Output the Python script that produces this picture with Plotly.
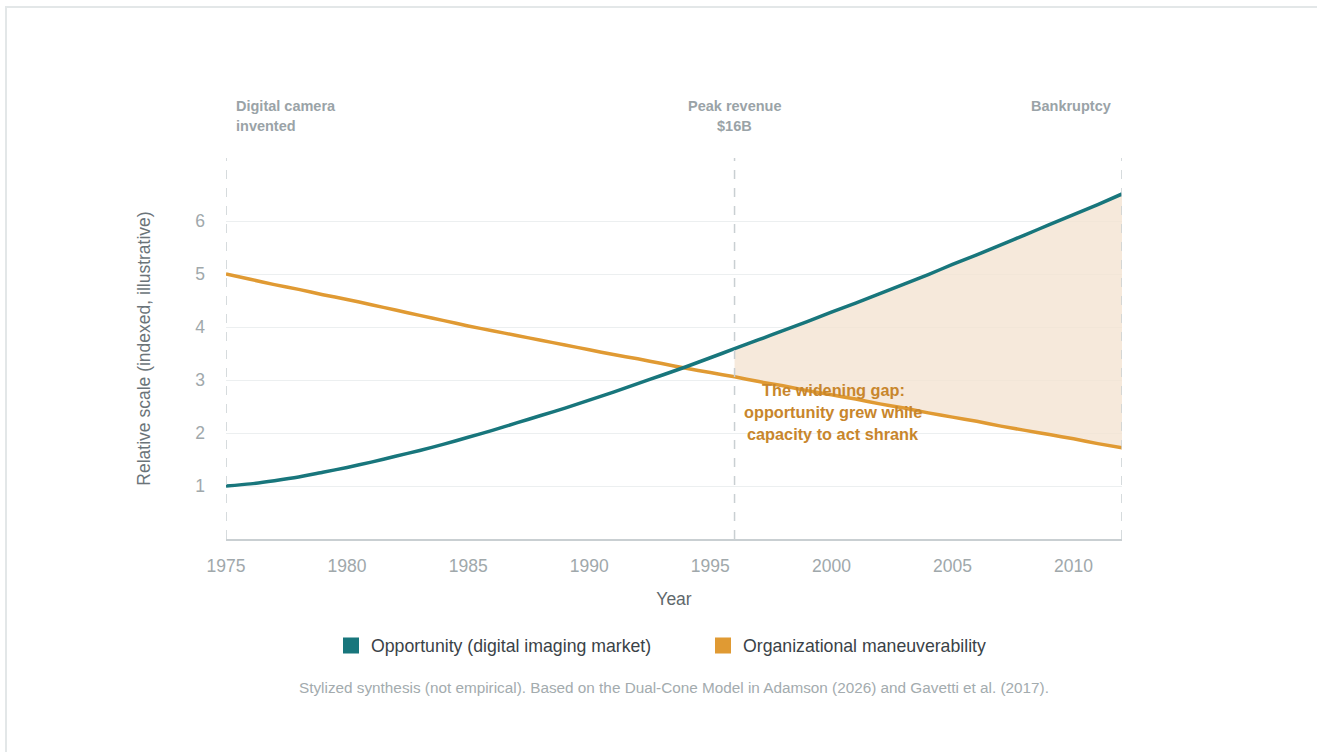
import plotly.graph_objects as go

years = list(range(1975, 2013))
opportunity = [1.00, 1.04, 1.10, 1.17, 1.26, 1.35, 1.45, 1.56, 1.67, 1.79,
               1.92, 2.05, 2.19, 2.33, 2.47, 2.62, 2.77, 2.93, 3.09, 3.25,
               3.42, 3.59, 3.76, 3.93, 4.10, 4.28, 4.45, 4.63, 4.81, 4.99,
               5.18, 5.36, 5.55, 5.74, 5.93, 6.12, 6.31, 6.51]
maneuverability = [5.00, 4.90, 4.80, 4.71, 4.61, 4.52, 4.42, 4.32, 4.22, 4.12,
                   4.02, 3.93, 3.84, 3.75, 3.66, 3.57, 3.48, 3.40, 3.31, 3.22,
                   3.14, 3.06, 2.97, 2.89, 2.80, 2.72, 2.64, 2.55, 2.47, 2.38,
                   2.30, 2.22, 2.13, 2.05, 1.97, 1.89, 1.80, 1.72]
events = [1975, 1996, 2012]
event_labels = [["Digital camera", "invented"], ["Peak revenue", "$16B"], ["Bankruptcy"]]
gap_start = 1996
x_ticks = [1975, 1980, 1985, 1990, 1995, 2000, 2005, 2010]
y_ticks = [1, 2, 3, 4, 5, 6]

TEAL = "#18767c"
ORANGE = "#e09a33"
FONT = "Liberation Sans, Arial, sans-serif"

W, H = 1317, 752
L, R, T, B = 226, 1122, 158, 539

fig = go.Figure()

gi = years.index(gap_start)
fig.add_trace(go.Scatter(x=years[gi:], y=maneuverability[gi:], mode="lines",
                         line=dict(width=0, color=ORANGE), showlegend=False, hoverinfo="skip"))
fig.add_trace(go.Scatter(x=years[gi:], y=opportunity[gi:], mode="lines", fill="tonexty",
                         fillcolor="rgba(244,228,210,0.8)",
                         line=dict(width=0, color=TEAL), showlegend=False, hoverinfo="skip"))

fig.add_trace(go.Scatter(x=years, y=maneuverability, mode="lines", line=dict(color=ORANGE, width=3.5, shape="spline", smoothing=0.6),
                         showlegend=False))
fig.add_trace(go.Scatter(x=years, y=opportunity, mode="lines", line=dict(color=TEAL, width=3.5, shape="spline", smoothing=0.6),
                         showlegend=False))

# legend entries (square swatches)
fig.add_trace(go.Scatter(x=[None], y=[None], mode="markers", name="Opportunity (digital imaging market)",
                         marker=dict(symbol="square", size=16, color=TEAL)))
fig.add_trace(go.Scatter(x=[None], y=[None], mode="markers", name="Organizational maneuverability",
                         marker=dict(symbol="square", size=16, color=ORANGE)))

shapes = []
for e in events:
    shapes.append(dict(type="line", xref="x", yref="paper", x0=e, x1=e, y0=0, y1=1,
                       line=dict(color="#c9cfd2", width=1.5, dash="dash"), layer="above"))

def py(p):
    return (B - p) / (B - T)

def px(p):
    return (p - L) / (R - L)

# card border
shapes.append(dict(type="rect", xref="paper", yref="paper", x0=px(6), x1=px(1340), y0=py(780), y1=py(7),
                   line=dict(color="#e3e7e8", width=2), fillcolor="rgba(0,0,0,0)", layer="below"))

annotations = []
label_color = "#9aa3a7"
for e, lines in zip(events, event_labels):
    for i, txt in enumerate(lines):
        if e == events[0]:
            xa, xs = "left", 8
        elif e == events[-1]:
            xa, xs = "right", -9
        else:
            xa, xs = "center", 0
        annotations.append(dict(x=e, xref="x", y=py(106 + 20 * i), yref="paper", text=f"<b>{txt}</b>",
                                showarrow=False, xanchor=xa, yanchor="middle", xshift=xs,
                                font=dict(family=FONT, size=14.5, color=label_color)))

gap_lines = ["The widening gap:", "opportunity grew while", "capacity to act shrank"]
for i, txt in enumerate(gap_lines):
    annotations.append(dict(x=px(833), xref="paper", y=py(390 + 22 * i), yref="paper", text=f"<b>{txt}</b>",
                            showarrow=False, xanchor="center", yanchor="middle",
                            font=dict(family=FONT, size=16.3, color="#c8862c")))

annotations.append(dict(x=px(674), xref="paper", y=py(687), yref="paper",
                        text="Stylized synthesis (not empirical). Based on the Dual-Cone Model in Adamson (2026) and Gavetti et al. (2017).",
                        showarrow=False, xanchor="center", yanchor="middle",
                        font=dict(family=FONT, size=15.3, color="#a3abae")))

fig.update_layout(
    width=W, height=H,
    margin=dict(l=L, r=W - R, t=T, b=H - B),
    paper_bgcolor="white", plot_bgcolor="white",
    font=dict(family=FONT),
    shapes=shapes, annotations=annotations,
    legend=dict(orientation="h", x=px(331), xanchor="left", y=py(646), yanchor="middle",
                font=dict(family=FONT, size=17.7, color="#3a4247"), itemsizing="trace",
                traceorder="normal", itemwidth=30, entrywidth=327, entrywidthmode="pixels"),
    xaxis=dict(range=[1975, 2012], tickvals=x_ticks, showgrid=False, zeroline=False,
               showline=True, linecolor="#c9cfd2", linewidth=2, ticks="", ticklabelstandoff=10,
               tickfont=dict(family=FONT, size=17.5, color="#a0a8ab"),
               title=dict(text="Year", font=dict(family=FONT, size=17.5, color="#5f686c"), standoff=18)),
    yaxis=dict(range=[0, (B - T) / 53.0], tickvals=y_ticks, showgrid=True, gridcolor="#eceff0", gridwidth=1,
               zeroline=False, showline=False, ticks="", ticklabelstandoff=20,
               tickfont=dict(family=FONT, size=17.5, color="#a0a8ab"),
               title=dict(text="Relative scale (indexed, illustrative)", font=dict(family=FONT, size=17.5, color="#6b7479"),
                          standoff=40)),
)

fig.write_html("out.html")
